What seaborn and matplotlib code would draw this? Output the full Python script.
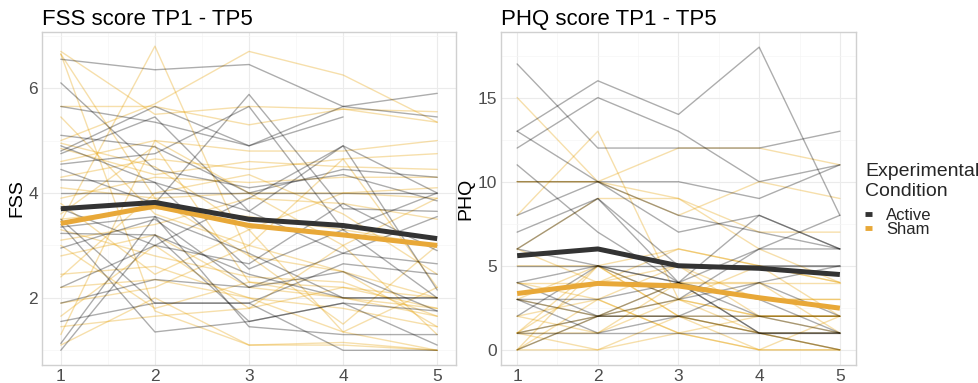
import numpy as np
import pandas as pd
import matplotlib
matplotlib.use("Agg")
import matplotlib.pyplot as plt
import seaborn as sns
from matplotlib.lines import Line2D

sns.set_theme(style="white")
plt.rcParams['font.family'] = ['Liberation Sans', 'DejaVu Sans']

timepoints = [1, 2, 3, 4, 5]

# ---- FSS individual trajectories ----
fss_active = [
    [6.55, 6.35, 6.45, 5.65, 5.45],
    [6.10, 4.45, 4.10, 4.35, 3.85],
    [5.65, 5.35, 4.90, 5.65, 5.90],
    [5.10, 4.88, 4.00, 4.45, 4.30],
    [4.80, 5.65, 4.90, 5.45, np.nan],
    [4.75, 5.45, 3.65, 4.90, 4.00],
    [4.55, 4.75, 5.65, 3.30, 2.00],
    [4.45, 3.80, 5.88, 3.70, 3.65],
    [4.25, 4.20, 2.55, 3.30, 4.00],
    [4.00, 4.00, 4.00, 4.00, 4.00],
    [3.35, 3.55, 2.85, 2.00, 2.00],
    [3.23, 3.20, 2.45, 2.00, 2.00],
    [2.95, 3.50, 2.20, 2.85, 3.55],
    [2.20, 3.00, 3.90, 4.90, 2.15],
    [1.90, 2.35, 2.20, 2.50, 1.75],
    [1.55, 1.90, 1.90, 2.65, 2.45],
    [1.13, 3.55, 1.45, 1.30, 1.30],
    [1.00, 3.20, 1.55, 1.90, 1.10],
    [3.40, 1.35, 1.55, 1.90, 1.75],
    [3.70, 3.00, 2.65, 3.80, 2.90],
    [4.90, 4.20, 3.65, 2.85, 2.65],
    [3.50, 1.90, 1.90, 1.00, 1.00],
]
fss_sham = [
    [6.70, 5.50, 5.65, 5.60, 5.55],
    [6.65, 1.75, 1.10, 1.15, 1.00],
    [5.65, 5.65, 5.30, 5.60, 5.35],
    [5.45, 3.60, 3.00, 2.50, 2.00],
    [5.00, 5.70, 6.70, 6.25, 5.35],
    [4.85, 4.35, 4.60, 4.50, 4.45],
    [4.60, 5.00, 4.80, 4.80, 5.00],
    [4.30, 4.65, 4.45, 4.65, 4.75],
    [4.10, 3.90, 4.00, 4.00, 4.10],
    [3.90, 4.30, 4.20, 4.30, 4.30],
    [3.80, 2.45, 3.30, 4.00, 3.90],
    [3.60, 4.90, 2.30, 2.20, 2.00],
    [3.50, 3.70, 3.55, 3.30, 3.00],
    [3.45, 6.80, 2.80, 1.50, 3.00],
    [3.30, 2.80, 2.40, 2.30, 1.65],
    [3.10, 3.40, 3.90, 3.80, 3.50],
    [2.80, 3.20, 2.20, 2.00, 1.80],
    [2.45, 2.60, 2.00, 1.80, 1.45],
    [2.40, 4.00, 4.35, 3.60, 2.45],
    [2.20, 2.35, 2.00, 1.35, 1.00],
    [1.90, 2.20, 3.00, 4.65, 2.20],
    [1.65, 3.00, 1.80, 3.00, 1.30],
    [1.45, 1.65, 1.80, 2.20, 1.80],
    [1.30, 5.00, 4.00, 3.00, 3.90],
    [1.10, 2.00, 1.10, 1.10, 1.00],
    [4.95, 4.50, 3.30, 1.35, 2.20],
    [3.00, 1.80, 2.30, 2.00, 1.65],
    [6.65, 3.90, 2.80, 2.50, 1.45],
]

# ---- PHQ individual trajectories ----
phq_active = [
    [13, 16, 14, 18, 8],
    [12, 15, 13, 10, 11],
    [17, 12, 12, 12, 13],
    [13, 10, 8, 7, 6],
    [11, 7, 4, 1, 0],
    [10, 10, 10, 9, 11],
    [8, 10, 7, 8, 6],
    [7, 9, 5, 5, 5],
    [6, 9, 4, 1, 1],
    [6, 5, 4, 6, 6],
    [5, 5, 5, 5, 5],
    [4, 5, 4, 2, 1],
    [3, 2, 2, 1, 1],
    [3, 1, 2, 4, 2],
    [2, 5, 3, 6, 8],
    [1, 1, 1, 1, 1],
    [0, 2, 3, 4, 5],
    [4, 2, 4, 8, 6],
    [1, 2, 2, 2, 2],
    [3, 3, 4, 3, 1],
]
phq_sham = [
    [15, 10, 9, 6, 4],
    [10, 10, 12, 12, 11],
    [8, 13, 3, 1, 0],
    [10, 10, 8, 10, 9],
    [6, 9, 9, 7, 7],
    [5, 5, 6, 5, 4],
    [4, 4, 4, 4, 4],
    [3, 5, 3, 2, 2],
    [2, 3, 5, 3, 3],
    [1, 5, 2, 0, 2],
    [1, 2, 3, 2, 1],
    [1, 0, 1, 2, 2],
    [0, 3, 1, 0, 0],
    [0, 0, 2, 1, 1],
    [1, 4, 5, 2, 2],
    [2, 1, 4, 3, 3],
    [4, 3, 1, 0, 0],
    [0, 2, 2, 2, 2],
    [6, 4, 6, 5, 4],
    [1, 1, 3, 5, 2],
    [3, 2, 4, 4, 1],
    [0, 5, 2, 1, 0],
]

# ---- group means ----
fss_mean_active = [3.70, 3.82, 3.50, 3.38, 3.13]
fss_mean_sham = [3.42, 3.75, 3.38, 3.20, 3.00]
phq_mean_active = [5.60, 6.00, 5.00, 4.85, 4.48]
phq_mean_sham = [3.35, 3.95, 3.80, 3.10, 2.48]

conditions = ["Active", "Sham"]
ind_colors = {"Active": (0, 0, 0, 0.32), "Sham": (0.902, 0.624, 0.0, 0.33)}
mean_colors = {"Active": "#333333", "Sham": "#E8A838"}


def long_df(rows, cond, prefix):
    recs = []
    for i, r in enumerate(rows):
        for t, v in zip(timepoints, r):
            recs.append({"ID": f"{prefix}{i}", "TP": t, "value": v, "Condition": cond})
    return pd.DataFrame(recs)


def mean_df(vals, cond):
    return pd.DataFrame({"TP": timepoints, "value": vals, "Condition": cond})


W, H = 979, 383
fig = plt.figure(figsize=(W / 100, H / 100), dpi=100)
ax1 = fig.add_axes([42 / W, 18 / H, 414 / W, 333 / H])
ax2 = fig.add_axes([501 / W, 18 / H, 355 / W, 333 / H])

panels = [
    (ax1, fss_active, fss_sham, fss_mean_active, fss_mean_sham, "FSS",
     "FSS score TP1 - TP5", (0.72, 7.07), [2, 4, 6], [1, 3, 5, 7]),
    (ax2, phq_active, phq_sham, phq_mean_active, phq_mean_sham, "PHQ",
     "PHQ score TP1 - TP5", (-0.9, 18.9), [0, 5, 10, 15], [2.5, 7.5, 12.5, 17.5]),
]

for ax, act, sham, ma, ms, lab, title, ylim, yt, yminor in panels:
    dfa = long_df(act, "Active", "a")
    dfs = long_df(sham, "Sham", "s")
    sns.lineplot(data=dfs, x="TP", y="value", units="ID", estimator=None,
                 color=ind_colors["Sham"], lw=1.0, ax=ax, legend=False)
    sns.lineplot(data=dfa, x="TP", y="value", units="ID", estimator=None,
                 color=ind_colors["Active"], lw=1.0, ax=ax, legend=False)
    sns.lineplot(data=mean_df(ms, "Sham"), x="TP", y="value", color=mean_colors["Sham"],
                 lw=3.6, ax=ax, legend=False, solid_capstyle="butt")
    sns.lineplot(data=mean_df(ma, "Active"), x="TP", y="value", color=mean_colors["Active"],
                 lw=3.6, ax=ax, legend=False, solid_capstyle="butt")
    ax.set_xlim(0.8, 5.2)
    ax.set_ylim(*ylim)
    ax.set_xticks(timepoints)
    ax.set_xticks([1.5, 2.5, 3.5, 4.5], minor=True)
    ax.set_yticks(yt)
    ax.set_yticks(yminor, minor=True)
    ax.grid(True, which="major", color="#EBEBEB", lw=0.8)
    ax.grid(True, which="minor", color="#F5F5F5", lw=0.5)
    ax.set_axisbelow(True)
    for s in ax.spines.values():
        s.set_color("#D0D0D0")
        s.set_linewidth(1.0)
    ax.tick_params(axis="both", which="major", labelsize=12.5, labelcolor="#4D4D4D",
                   color="#C8C8C8", length=2, width=0.8, pad=1)
    ax.tick_params(axis="both", which="minor", length=0)
    ax.set_xlabel("")
    ax.set_ylabel(lab, fontsize=14, color="black", labelpad=2)
    ax.set_title(title, loc="left", fontsize=16, color="black", pad=5)

handles = [Line2D([0], [0], color=mean_colors[c], lw=3.5, solid_capstyle="butt") for c in conditions]
leg = fig.legend(handles, conditions, title="Experimental\nCondition",
                 loc="upper left", bbox_to_anchor=(865 / W, 1 - 163 / H),
                 frameon=False, fontsize=12, title_fontsize=14,
                 handlelength=0.45, handletextpad=0.8, labelspacing=-0.05,
                 borderaxespad=0, borderpad=0)
leg._legend_box.align = "left"
leg._legend_box.sep = 6

fig.savefig("out.png", dpi=100)
